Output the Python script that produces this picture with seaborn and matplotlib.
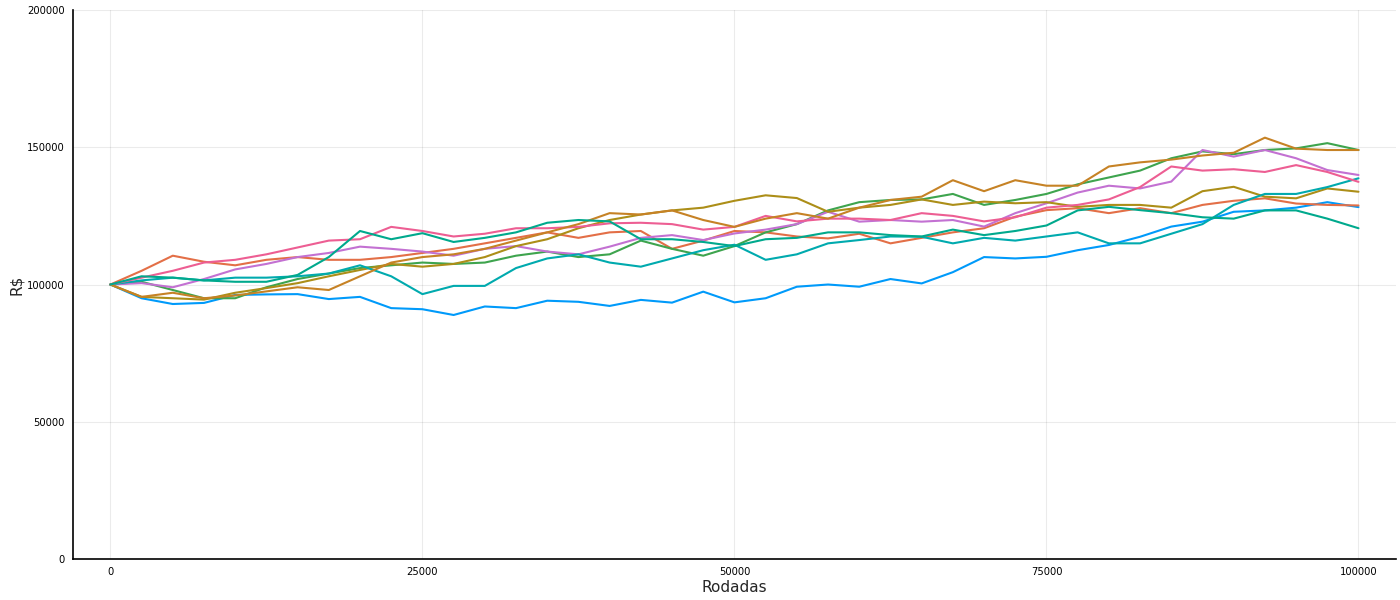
import numpy as np
import pandas as pd
import matplotlib
matplotlib.use("Agg")
import matplotlib.pyplot as plt
import seaborn as sns

rodadas = list(range(0, 100001, 2500))

s1_blue = [100000, 95000, 92900, 93300, 96200, 96400, 96500, 94700, 95500, 91400,
           91000, 88900, 92000, 91400, 94100, 93700, 92200, 94400, 93400, 97400,
           93500, 95000, 99200, 100000, 99200, 102000, 100400, 104500, 110000, 109500,
           110100, 112500, 114400, 117400, 121100, 122900, 126500, 127000, 128000, 130000,
           128200]
s2_orange = [100000, 105000, 110500, 108300, 107000, 109000, 110000, 109000, 109000, 110000,
             111500, 113000, 115000, 117000, 119000, 117000, 119000, 119500, 113000, 116000,
             119500, 119000, 117500, 116800, 118500, 115000, 117000, 119000, 120500, 124700,
             127100, 127800, 126000, 127800, 126000, 129000, 130500, 131400, 129500, 129000,
             128800]
s3_green = [100000, 101000, 98000, 95000, 95000, 99000, 102000, 104000, 106000, 107000,
            108000, 107500, 108000, 110500, 112000, 110000, 111000, 116000, 113000, 110500,
            114000, 119000, 122000, 127000, 130000, 130800, 131000, 133000, 129000, 130800,
            133000, 136500, 139000, 141500, 146000, 148500, 147500, 149000, 149600, 151500,
            149000]
s4_purple = [100000, 100500, 99000, 102000, 105500, 107500, 110000, 111500, 113800, 113000,
             112000, 110500, 113000, 114000, 112000, 111000, 113800, 117000, 118000, 116200,
             118600, 120000, 122000, 126500, 122900, 123500, 122900, 123500, 121100, 126000,
             129600, 133500, 136000, 135000, 137500, 149000, 146600, 149000, 146000, 141700,
             139900]
s5_olive = [100000, 95500, 95000, 94500, 97000, 98700, 100500, 103000, 105300, 107500,
            106500, 107500, 110000, 114000, 116500, 120500, 123500, 125500, 127000, 128000,
            130500, 132500, 131500, 126500, 128000, 129000, 131000, 129000, 130200, 129600,
            130000, 128300, 129000, 129000, 128000, 134000, 135600, 132000, 131400, 135000,
            133800]
s6_teal = [100000, 101500, 102500, 101500, 102500, 102500, 103000, 104000, 107000, 103000,
           96500, 99500, 99500, 106000, 109500, 111000, 108000, 106500, 109500, 112500,
           114500, 109000, 111000, 115000, 116200, 117500, 117400, 115000, 117000, 116000,
           117500, 119000, 115000, 115000, 118500, 122000, 129000, 133000, 133000, 135500,
           138700]
s7_pink = [100000, 102500, 105000, 108000, 109000, 111000, 113500, 116000, 116500, 121000,
           119500, 117500, 118500, 120500, 120500, 121000, 122300, 122500, 122000, 120000,
           121000, 125000, 123000, 124000, 124000, 123500, 126000, 125000, 123000, 124500,
           128000, 129000, 131000, 135500, 143000, 141500, 142000, 141000, 143500, 141000,
           137400]
s8_brown = [100000, 95500, 97000, 95000, 96000, 97500, 99000, 98000, 103000, 108000,
            110000, 111000, 113000, 116000, 119000, 122000, 126000, 125500, 127000, 123500,
            121000, 124000, 126000, 124000, 128000, 130800, 132000, 138000, 134000, 138000,
            136000, 136000, 143000, 144500, 145500, 147000, 148000, 153500, 149500, 149000,
            149000]
s9_seagreen = [100000, 103000, 102500, 101500, 101000, 101000, 103500, 110000, 119500, 116500,
               118700, 115500, 117000, 119000, 122500, 123500, 123000, 116500, 116500, 115500,
               114000, 116500, 117000, 119000, 119000, 118000, 117500, 120000, 118000, 119500,
               121500, 127000, 128300, 127100, 126000, 124500, 124000, 127000, 127000, 124000,
               120500]

series = {"y1": s1_blue, "y2": s2_orange, "y3": s3_green, "y4": s4_purple, "y5": s5_olive,
          "y6": s6_teal, "y7": s7_pink, "y8": s8_brown, "y9": s9_seagreen}
palette = ["#009afa", "#e36f47", "#3ea44e", "#c371d2", "#ac8e18",
           "#00aaae", "#ed5e93", "#c68225", "#00a98d"]

frames = []
for name, vals in series.items():
    frames.append(pd.DataFrame({"Rodadas": rodadas, "R$": vals, "serie": name}))
df = pd.concat(frames, ignore_index=True)

sns.set_style("white")
plt.rcParams['font.family'] = ['DejaVu Sans']

fig = plt.figure(figsize=(14, 6), dpi=100)
ax = fig.add_axes([0.0521, 0.0683, 0.9450, 0.9150])

sns.lineplot(data=df, x="Rodadas", y="R$", hue="serie", palette=palette,
             legend=False, linewidth=1.5, ax=ax, estimator=None, sort=False)

ax.set_xlim(-3000, 103000)
ax.set_ylim(0, 200000)
ax.set_xticks([0, 25000, 50000, 75000, 100000])
ax.set_xticklabels(["0", "25000", "50000", "75000", "100000"])
ax.set_yticks([0, 50000, 100000, 150000, 200000])
ax.set_yticklabels(["0", "50000", "100000", "150000", "200000"])
ax.grid(True, color="#000000", alpha=0.08, linewidth=0.8)
ax.set_axisbelow(True)
for side in ["top", "right"]:
    ax.spines[side].set_visible(False)
for side in ["left", "bottom"]:
    ax.spines[side].set_color("black")
    ax.spines[side].set_linewidth(1.2)
ax.tick_params(axis="both", direction="in", length=4, width=0.8, labelsize=7.2,
               colors="black", pad=6)
ax.set_xlabel("Rodadas", fontsize=11, labelpad=2)
ax.set_ylabel("R$", fontsize=11, labelpad=2)

fig.savefig("out.png", dpi=100)
